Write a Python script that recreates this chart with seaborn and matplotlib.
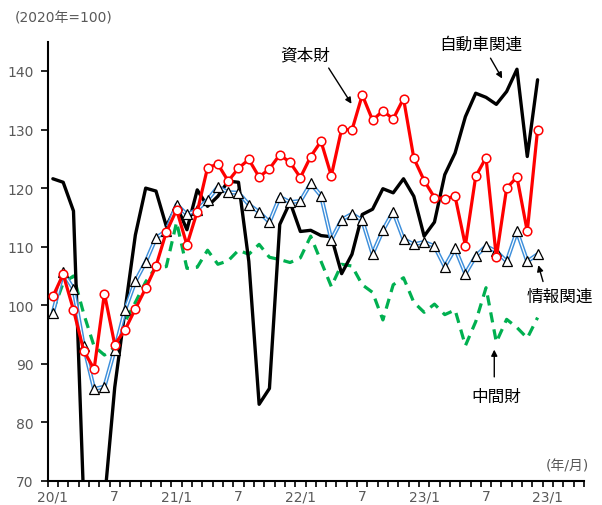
import numpy as np
import pandas as pd
import matplotlib
matplotlib.use("Agg")
import matplotlib.pyplot as plt
import seaborn as sns

# Monthly index values (2020 = 100), Jan 2020 .. Dec 2023
capital_goods = [101.5, 105.3, 99.2, 92.2, 89.1, 102.0, 93.3, 95.8, 99.4, 102.9,
                 106.7, 112.5, 116.3, 110.3, 116.0, 123.5, 124.1, 121.2, 123.4, 124.9,
                 121.9, 123.3, 125.7, 124.4, 121.8, 125.4, 128.0, 122.1, 130.1, 129.9,
                 135.9, 131.6, 133.2, 131.8, 135.3, 125.1, 121.3, 118.4, 118.2, 118.6,
                 110.2, 122.0, 125.2, 108.2, 120.0, 121.9, 112.6, 130.0]
it_related = [98.7, 105.6, 102.8, 93.0, 85.7, 86.1, 92.4, 99.2, 104.1, 107.4,
              111.5, 112.7, 117.2, 115.5, 116.3, 118.0, 120.2, 119.3, 119.2, 117.2,
              115.9, 114.2, 118.5, 117.6, 117.8, 120.8, 118.7, 111.2, 114.6, 115.6,
              114.5, 108.8, 112.8, 116.0, 111.3, 110.4, 110.8, 110.1, 106.6, 109.7,
              105.4, 108.4, 110.1, 109.2, 107.5, 112.6, 107.5, 108.7]
intermediate = [99.0, 103.8, 105.0, 98.5, 93.0, 91.5, 92.8, 97.2, 100.5, 104.0,
                106.5, 106.6, 114.2, 106.3, 106.5, 109.4, 107.0, 107.6, 109.4, 108.7,
                110.4, 108.2, 107.8, 107.3, 108.1, 111.8, 107.5, 103.2, 107.0, 106.7,
                103.5, 102.2, 97.5, 103.5, 104.7, 100.5, 98.8, 100.2, 98.4, 99.2,
                93.1, 97.2, 103.0, 93.7, 97.6, 96.2, 94.4, 97.9]
automobiles = [121.6, 121.0, 116.1, 66.0, 57.0, 66.5, 86.0, 99.2, 112.0, 120.0,
               119.5, 113.5, 117.0, 112.9, 119.7, 116.9, 118.6, 121.2, 121.0, 107.5,
               83.1, 85.8, 113.8, 117.6, 112.6, 112.8, 111.9, 111.7, 105.4, 108.7,
               115.5, 116.4, 119.9, 119.2, 121.6, 118.6, 111.8, 114.2, 122.3, 126.0,
               132.2, 136.2, 135.5, 134.3, 136.5, 140.3, 125.4, 138.5]

n_cats = 52
tick_pos = [0, 6, 12, 18, 24, 30, 36, 42, 48]
tick_labels = ["20/1", "7", "21/1", "7", "22/1", "7", "23/1", "7", "23/1"]

month = np.arange(len(capital_goods))
df = pd.DataFrame({
    "month": month,
    "資本財": capital_goods,
    "情報関連": it_related,
    "中間財": intermediate,
    "自動車関連": automobiles,
})

sns.set_theme(style="white")
plt.rcParams["font.family"] = ["Noto Sans CJK JP", "DejaVu Sans"]
num_font = ["DejaVu Sans", "Noto Sans CJK JP"]
grey = "#595959"

fig = plt.figure(figsize=(6.02, 5.06), dpi=100)
ax = fig.add_axes([47.7 / 602, 24 / 506, (584 - 47.7) / 602, (482 - 42.7) / 506])

# intermediate goods: green dashed
sns.lineplot(data=df, x="month", y="中間財", ax=ax, color="#00B050", lw=2.3,
             linestyle=(0, (3.2, 2.2)), zorder=2)
# automobiles: thick black
sns.lineplot(data=df, x="month", y="自動車関連", ax=ax, color="black", lw=2.4, zorder=3)
# IT-related: double blue line with triangle markers
sns.lineplot(data=df, x="month", y="情報関連", ax=ax, color="#3D8FDB", lw=3.0, zorder=4)
sns.lineplot(data=df, x="month", y="情報関連", ax=ax, color="white", lw=0.9, zorder=4.1)
sns.lineplot(data=df, x="month", y="情報関連", ax=ax, color="black", lw=0, marker="^",
             markersize=6.8, markerfacecolor="white", markeredgecolor="black",
             markeredgewidth=0.9, zorder=4.2)
# capital goods: red with hollow circles
sns.lineplot(data=df, x="month", y="資本財", ax=ax, color="#FF0000", lw=2.3, marker="o",
             markersize=6.2, markerfacecolor="white", markeredgecolor="#FF0000",
             markeredgewidth=1.1, zorder=5)

ax.set_xlim(-0.5, n_cats - 0.5)
ax.set_ylim(70, 145)
ax.set_xlabel("")
ax.set_ylabel("")

ax.set_yticks(np.arange(70, 141, 10))
ax.set_xticks(tick_pos)
ax.set_xticklabels(tick_labels)
ax.set_xticks(np.arange(-0.5, n_cats, 1), minor=True)
ax.tick_params(axis="x", which="major", length=0, pad=6, labelsize=10, labelcolor=grey)
ax.tick_params(axis="x", which="minor", length=4, width=1.2, color="black", direction="out", bottom=True)
ax.tick_params(axis="y", which="major", length=5, width=1.2, color="black", direction="out", left=True,
               pad=5, labelsize=10, labelcolor=grey)
for lab in ax.get_xticklabels() + ax.get_yticklabels():
    lab.set_family(num_font)

for side in ["top", "right"]:
    ax.spines[side].set_visible(False)
for side in ["left", "bottom"]:
    ax.spines[side].set_color("black")
    ax.spines[side].set_linewidth(1.5)

# series labels with arrows
label_kw = dict(ha="center", va="center", fontsize=12, color="black")
arrow_kw = dict(arrowstyle="-|>", color="black", lw=1.0, mutation_scale=9)
ax.text(24.5, 142.8, "資本財", **label_kw)
ax.annotate("", xy=(29.1, 134.0), xytext=(26.6, 140.9), arrowprops=arrow_kw)
ax.text(41.5, 144.6, "自動車関連", **label_kw)
ax.annotate("", xy=(43.7, 138.3), xytext=(42.3, 142.6), arrowprops=arrow_kw)
ax.text(49.2, 101.5, "情報関連", **label_kw)
ax.annotate("", xy=(47.0, 107.3), xytext=(47.6, 103.6), arrowprops=arrow_kw)
ax.text(43.0, 84.4, "中間財", **label_kw)
ax.annotate("", xy=(42.8, 92.9), xytext=(42.8, 87.3), arrowprops=arrow_kw)

fig.text(15 / 602, 1 - 19 / 506, "(2020年=100)", ha="left", va="center", fontsize=10,
         color=grey, family=num_font)
fig.text(567 / 602, 1 - 467 / 506, "(年/月)", ha="center", va="center", fontsize=10,
         color=grey, family=num_font)

fig.savefig("out.png", dpi=100)
